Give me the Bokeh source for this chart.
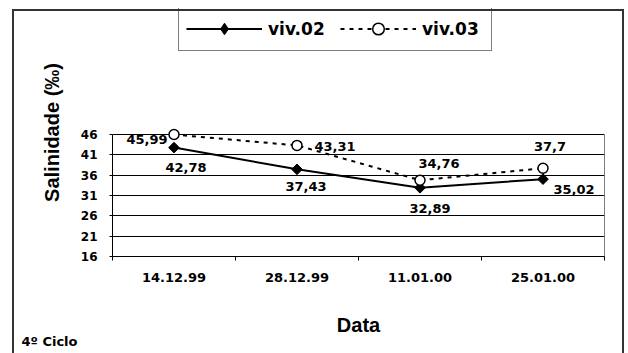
from bokeh.plotting import figure
from bokeh.models import (ColumnDataSource, FixedTicker, Legend, LegendItem,
                          Title, InlineStyleSheet)
from bokeh.core.properties import value
from bokeh.embed import file_html
from bokeh.resources import INLINE

# Sampling dates and salinity (‰) for the two ponds
datas = ["14.12.99", "28.12.99", "11.01.00", "25.01.00"]
viv02 = [42.78, 37.43, 32.89, 35.02]
viv03 = [45.99, 43.31, 34.76, 37.7]
y_ticks = [16, 21, 26, 31, 36, 41, 46]

# label offsets (screen px) around each marker
off02_x = [12, 9, 10, 31]
off02_y = [20, 17, 21, 10]
off03_x = [-27, 38, 19, 7]
off03_y = [5, 1, -17, -22]

xs = [i + 0.5 for i in range(len(datas))]
y_lo, y_hi = y_ticks[0], y_ticks[-1]
# extra headroom above the value axis holds the legend
y_top = y_hi + (y_hi - y_lo) * 126 / 122


def fmt(v):
    return str(v).replace(".", ",")


src02 = ColumnDataSource(dict(x=xs, y=viv02, t=[fmt(v) for v in viv02],
                              dx=off02_x, dy=off02_y))
src03 = ColumnDataSource(dict(x=xs, y=viv03, t=[fmt(v) for v in viv03],
                              dx=off03_x, dy=off03_y))

p = figure(width=628, height=353, output_backend="svg", toolbar_location=None,
           x_range=(0, len(datas)), y_range=(y_lo, y_top),
           min_border_left=112, min_border_right=24,
           min_border_top=8, min_border_bottom=97)
p.background_fill_color = "white"
p.border_fill_color = "white"
p.outline_line_color = None

# outer chart frame
p.styles = {"position": "relative", "overflow": "hidden"}
p.stylesheets = [InlineStyleSheet(css="""
:host::after {
  content: ''; position: absolute; left: 12px; top: 9px;
  width: 612px; height: 420px; box-sizing: border-box;
  border: 2px solid #333333; pointer-events: none;
}
""")]

# right edge of the plotting box
p.segment(x0=[len(datas)], y0=[y_lo], x1=[len(datas)], y1=[y_hi],
          line_color="black", line_width=1)

l2 = p.line("x", "y", source=src02, line_color="black", line_width=2)
s2 = p.scatter("x", "y", source=src02, marker="square", size=7.5,
               angle=0.785398, fill_color="black", line_color="black")
l3 = p.line("x", "y", source=src03, line_color="black", line_width=2,
            line_dash="4 5")
s3 = p.scatter("x", "y", source=src03, marker="circle", size=10,
               fill_color="white", line_color="black", line_width=1.5)
# legend swatch for viv.02 (legend markers are drawn unrotated)
key2 = p.scatter("x", "y", source=src02, marker="diamond", fill_color="black",
                 line_color="black", visible=False)

for src in (src02, src03):
    p.text("x", "y", text="t", source=src, x_offset="dx", y_offset="dy",
           text_align="center", text_baseline="middle",
           text_font=value("DejaVu Sans"), text_font_style="bold",
           text_font_size="13px", text_color="black")

# x axis: labels centred on categories, tick marks on boundaries
p.xaxis.ticker = FixedTicker(ticks=xs, minor_ticks=list(range(len(datas) + 1)))
p.xaxis.major_label_overrides = {x: d for x, d in zip(xs, datas)}
p.xaxis.major_tick_out = 0
p.xaxis.major_tick_in = 0
p.xaxis.minor_tick_out = 4
p.xaxis.minor_tick_in = 0
p.xaxis.minor_tick_line_color = "black"
p.xaxis.major_label_standoff = 12
p.xaxis.axis_label = "Data"
p.xaxis.axis_label_standoff = 29

p.yaxis.ticker = FixedTicker(ticks=y_ticks)
p.yaxis.bounds = (y_lo, y_hi)
p.yaxis.major_tick_out = 3
p.yaxis.major_tick_in = 0
p.yaxis.minor_tick_line_color = None
p.yaxis.major_label_standoff = 12
p.yaxis.axis_label = "Salinidade (‰)"
p.yaxis.axis_label_standoff = 15

for ax in (p.xaxis, p.yaxis):
    ax.axis_line_color = "black"
    ax.major_tick_line_color = "black"
    ax.major_label_text_font = "DejaVu Sans"
    ax.major_label_text_font_style = "bold"
    ax.major_label_text_color = "black"
    ax.axis_label_text_font = "Liberation Sans"
    ax.axis_label_text_font_style = "bold"
    ax.axis_label_text_font_size = "20px"
    ax.axis_label_text_color = "black"
p.xaxis.major_label_text_font_size = "13px"
p.yaxis.major_label_text_font_size = "12px"

p.xgrid.grid_line_color = None
p.ygrid.ticker = FixedTicker(ticks=y_ticks)
p.ygrid.grid_line_color = "black"
p.ygrid.grid_line_width = 1

legend = Legend(items=[LegendItem(label="viv.02", renderers=[l2, key2]),
                       LegendItem(label="viv.03", renderers=[l3, s3])],
                orientation="horizontal", location=(66, 205),
                glyph_width=76, glyph_height=29, label_height=29,
                label_width=62, label_standoff=6, spacing=10, padding=7,
                margin=0, border_line_color="black", border_line_width=1,
                background_fill_color="white", background_fill_alpha=1,
                label_text_font="DejaVu Sans", label_text_font_style="bold",
                label_text_font_size="17px", label_text_color="black")
p.add_layout(legend)

# cycle note in the lower-left corner, tucked up against the axis title
note = Title(text="4º Ciclo", align="left", offset=-91, vertical_align="top",
             text_font="DejaVu Sans", text_font_style="bold",
             text_font_size="13px", text_color="black")
try:
    note.standoff = -10
except ValueError:
    note.standoff = 0
p.add_layout(note, "below")

open("out.html", "w").write(file_html(p, INLINE))
